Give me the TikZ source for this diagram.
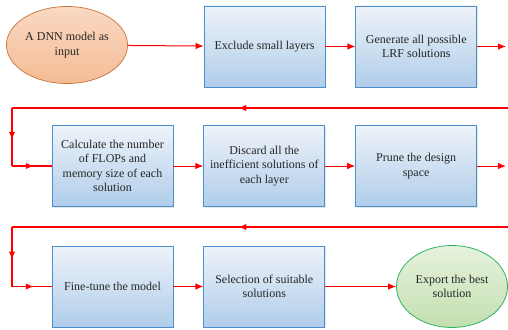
\documentclass[tikz,border=0pt]{standalone}
\usepackage{fontspec}
\setmainfont{Liberation Serif}
\usetikzlibrary{positioning,arrows.meta,shadows,decorations.markings}
\definecolor{boxtop}{HTML}{EEF3F9}
\definecolor{boxbot}{HTML}{B0CDEA}
\definecolor{boxline}{HTML}{4A90CF}
\definecolor{orgtop}{HTML}{FAD9C3}
\definecolor{orgbot}{HTML}{F4BC95}
\definecolor{orgline}{HTML}{C8733A}
\definecolor{grntop}{HTML}{E6F2DD}
\definecolor{grnbot}{HTML}{C3DFAF}
\definecolor{grnline}{HTML}{2BB463}
\definecolor{txt}{HTML}{262626}
\tikzset{
    stepbox/.style={rectangle, draw=boxline, line width=0.8pt, top color=boxtop, bottom color=boxbot,
        minimum width=121pt, minimum height=81pt, align=center, text=txt,
        drop shadow={opacity=0.2, shadow xshift=1pt, shadow yshift=-1pt}},
    startnode/.style={ellipse, draw=orgline, line width=0.7pt, top color=orgtop, bottom color=orgbot,
        minimum width=111pt, minimum height=77pt, align=center, text=txt, inner sep=1pt},
    endnode/.style={ellipse, draw=grnline, line width=0.8pt, top color=grntop, bottom color=grnbot,
        minimum width=111pt, minimum height=82pt, align=center, text=txt, inner sep=1pt},
    fwd/.style={draw=red, line width=1pt, -{Latex[length=8pt,width=6.5pt]}},
    backline/.style={draw=red, line width=1.5pt, postaction={decorate},
        decoration={markings, mark=at position 0.55 with {\arrow{Latex[length=8pt,width=6.5pt]}}}}
}
\usetikzlibrary{shapes.geometric}
\begin{document}
\begin{tikzpicture}[
                        x=1pt, y=-1pt,
                        node distance=30pt,
                        font=\fontsize{12pt}{14.5pt}\selectfont
                    ]
                    \useasboundingbox (0,0) rectangle (508,329);
                    % Row 1
                    \node [startnode] (input) at (67,45) {A DNN model as\\input};
                    \node [stepbox] (exclude) at (264.5,46.5) {Exclude small layers};
                    \node [stepbox,right=of exclude] (gen) {Generate all possible\\LRF solutions};
                    % Row 2
                    \node [stepbox] (flops) at (112.5,166) {Calculate the number\\of FLOPs and\\memory size of each\\solution};
                    \node [stepbox,right=of flops] (discard) {Discard all the\\inefficient solutions of\\each layer};
                    \node [stepbox,right=of discard] (prune) {Prune the design\\space};
                    % Row 3
                    \node [stepbox] (tune) at (112.5,286.5) {Fine-tune the model};
                    \node [stepbox,right=of tune] (select) {Selection of suitable\\solutions};
                    \node [endnode] (export) at (452,286.5) {Export the best\\solution};

                    % Helper points
                    \coordinate (out1) at (506,46.5);
                    \coordinate (in2) at (515,108);
                    \coordinate (turn2) at (12,108);
                    \coordinate (down2) at (12,166);
                    \coordinate (out2) at (506,166);
                    \coordinate (in3) at (515,227);
                    \coordinate (turn3) at (12,227);
                    \coordinate (down3) at (12,286.5);

                    % Connections
                    \draw [fwd] (input) -- (exclude);
                    \draw [fwd] (exclude) -- (gen);
                    \draw [fwd] (gen) -- (out1);
                    \draw [backline] (in2) -- (turn2);
                    \draw [backline] (turn2) -- (down2);
                    \draw [backline] (down2) -- (flops);
                    \draw [fwd] (flops) -- (discard);
                    \draw [fwd] (discard) -- (prune);
                    \draw [fwd] (prune) -- (out2);
                    \draw [backline] (in3) -- (turn3);
                    \draw [backline] (turn3) -- (down3);
                    \draw [backline] (down3) -- (tune);
                    \draw [fwd] (tune) -- (select);
                    \draw [fwd] (select) -- (export);
                \end{tikzpicture}
\end{document}
